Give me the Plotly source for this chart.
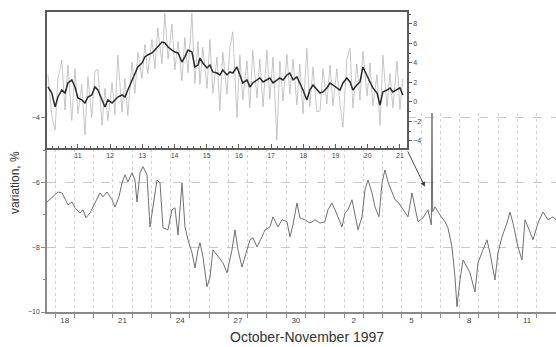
import plotly.graph_objects as go

# ---------------- data ----------------
# Main series: day counted from 1 October 1997 (32 = 1 November), variation in %
main_day = [17.585, 17.896, 18.156, 18.363, 18.519, 18.675, 18.882, 19.038, 19.297, 19.453,
            19.609, 19.816, 20.076, 20.335, 20.491, 20.698, 20.958, 21.114, 21.321, 21.477,
            21.633, 21.788, 21.996, 22.151, 22.255, 22.411, 22.567, 22.774, 22.930, 23.086,
            23.293, 23.449, 23.605, 23.864, 24.072, 24.227, 24.383, 24.591, 24.746, 24.902,
            25.110, 25.265, 25.421, 25.525, 25.680, 25.888, 26.044, 26.199, 26.459, 26.718,
            26.926, 27.185, 27.341, 27.497, 27.704, 27.964, 28.119, 28.275, 28.483, 28.742,
            28.898, 29.157, 29.313, 29.572, 29.780, 30.039, 30.195, 30.351, 30.558, 30.714,
            30.973, 31.233, 31.493, 31.752, 32.011, 32.167, 32.375, 32.531, 32.686, 32.894,
            33.049, 33.205, 33.413, 33.568, 33.724, 33.932, 34.087, 34.243, 34.451, 34.606,
            34.814, 34.970, 35.125, 35.281, 35.488, 35.644, 35.800, 36.059, 36.319, 36.526,
            36.682, 36.838, 37.097, 37.356, 37.530, 37.564, 37.600, 37.720, 37.979, 38.239,
            38.394, 38.602, 38.758, 38.862, 39.017, 39.173, 39.381, 39.536, 39.796, 39.951,
            40.211, 40.418, 40.574, 40.833, 40.989, 41.197, 41.456, 41.612, 41.768, 42.027,
            42.235, 42.390, 42.546, 42.806, 43.065, 43.324, 43.584, 43.843, 44.000]
main_var = [-6.60, -6.44, -6.29, -6.32, -6.53, -6.69, -6.60, -6.78, -6.94, -6.84,
            -7.09, -6.94, -6.63, -6.32, -6.44, -6.29, -6.53, -6.75, -6.44, -6.01,
            -5.76, -5.98, -5.70, -5.92, -6.60, -5.70, -5.51, -5.76, -7.37, -6.78,
            -5.92, -6.01, -7.40, -7.46, -6.84, -6.78, -7.62, -6.01, -7.37, -7.77,
            -8.17, -8.64, -8.08, -7.86, -8.30, -9.22, -8.92, -8.08, -8.30, -8.48,
            -8.79, -8.08, -7.46, -8.08, -8.61, -8.08, -7.77, -7.71, -7.99, -7.68,
            -7.46, -7.37, -7.06, -7.37, -7.15, -7.21, -7.68, -7.31, -6.63, -7.09,
            -7.15, -7.25, -7.15, -7.25, -7.21, -6.84, -6.63, -6.84, -7.06, -7.37,
            -6.94, -6.84, -6.53, -7.06, -7.46, -7.06, -6.23, -5.92, -6.32, -6.75,
            -7.06, -6.01, -5.61, -5.98, -6.32, -6.53, -6.60, -6.84, -7.06, -6.32,
            -6.75, -7.21, -7.09, -6.84, -7.31, -3.85, -6.90, -6.75, -7.00, -7.21,
            -7.40, -7.99, -8.92, -9.84, -9.01, -8.39, -8.61, -8.79, -9.38, -8.48,
            -8.08, -7.77, -8.17, -9.01, -8.17, -7.68, -7.25, -6.91, -7.25, -7.99,
            -8.39, -7.15, -7.37, -7.77, -7.25, -6.91, -7.15, -7.06, -7.15]

# Inset: hour, smoothed variation (dark) and raw variation (light)
inset_hour = [10.07, 10.19, 10.29, 10.38, 10.50, 10.60, 10.69, 10.81, 10.91, 11.00,
              11.12, 11.22, 11.31, 11.43, 11.53, 11.62, 11.75, 11.84, 11.93, 12.06,
              12.15, 12.24, 12.37, 12.46, 12.55, 12.68, 12.77, 12.86, 12.99, 13.08,
              13.17, 13.30, 13.39, 13.48, 13.61, 13.70, 13.80, 13.92, 14.01, 14.11,
              14.23, 14.32, 14.42, 14.54, 14.63, 14.73, 14.79, 14.88, 15.01, 15.10,
              15.19, 15.32, 15.41, 15.50, 15.63, 15.72, 15.81, 15.94, 16.03, 16.12,
              16.25, 16.34, 16.43, 16.56, 16.65, 16.75, 16.87, 16.96, 17.06, 17.18,
              17.27, 17.37, 17.49, 17.58, 17.68, 17.80, 17.89, 17.99, 18.11, 18.20,
              18.30, 18.42, 18.52, 18.61, 18.73, 18.83, 18.92, 19.04, 19.14, 19.23,
              19.35, 19.45, 19.54, 19.66, 19.76, 19.85, 19.98, 20.07, 20.16, 20.29,
              20.38, 20.47, 20.60, 20.69, 20.78, 20.91, 21.00, 21.09]
inset_mean = [1.54, 0.92, -0.51, 0.51, 1.23, 0.92, 1.95, 2.26, 1.54, 0.41,
              0.21, -0.10, 0.51, 0.72, 1.54, 1.23, 0.21, -0.51, 0.21, -0.10,
              0.21, 0.51, 0.72, 0.51, 1.23, 2.26, 2.97, 3.59, 4.00, 4.62,
              4.82, 5.03, 5.33, 5.64, 6.15, 6.05, 5.64, 5.33, 5.13, 5.03,
              4.10, 4.62, 5.33, 5.13, 3.59, 3.79, 4.51, 4.00, 3.49, 3.79,
              3.08, 2.97, 2.77, 3.28, 2.77, 3.08, 2.97, 3.59, 2.77, 1.95,
              2.26, 1.54, 1.95, 2.26, 2.46, 2.05, 2.26, 2.46, 1.95, 2.26,
              2.46, 2.26, 2.77, 2.97, 2.26, 2.56, 1.95, 1.23, 0.21, 1.23,
              1.74, 1.23, 0.92, 1.03, 1.44, 1.95, 1.74, 1.44, 1.23, 1.95,
              2.46, 2.05, 1.23, 1.74, 2.05, 3.59, 2.77, 2.05, 1.44, 0.92,
              -0.31, 1.03, 1.23, 1.44, 1.03, 1.23, 1.44, 0.72]
inset_raw = [2.8, -1.4, -2.9, 2.4, 4.3, -0.8, 3.8, -1.9, 3.4, -1.2,
             1.8, -3.4, 2.6, -1.6, 3.2, 3.3, -2.4, 1.4, -1.9, 2.0,
             -1.3, 4.8, -1.0, 2.4, -1.4, 4.1, 0.9, 5.1, 2.4, 5.9,
             2.9, 6.4, 3.4, 7.6, 3.9, 9.1, 4.4, 8.0, 3.3, 6.2,
             2.2, 6.6, 3.0, 9.1, 1.9, 6.2, 1.8, 5.6, 1.4, 6.4,
             0.9, 4.6, -0.9, 5.1, 0.8, 5.6, 7.2, -1.6, 4.8, 0.2,
             4.2, -0.6, 5.3, 0.4, 4.4, -0.5, 5.3, 0.3, 4.6, -3.9,
             4.2, 0.1, 4.9, 0.8, 4.4, -0.3, 3.9, -1.2, 5.5, -0.5,
             3.6, -1.0, -0.9, 3.4, -0.2, 3.8, -0.4, 3.4, -0.3, -2.6,
             4.4, 5.5, -0.6, 3.9, 0.2, 5.2, 0.6, 4.0, -0.4, 2.8,
             -2.4, 4.8, -0.5, 2.9, -0.6, 4.2, -0.8, 2.4]

# tick labels
main_tick_days = [18, 21, 24, 27, 30, 33, 36, 39, 42]
main_tick_text = ["18", "21", "24", "27", "30", "2", "5", "8", "11"]
main_y_ticks = [-10, -8, -6, -4]
inset_x_ticks = [11, 12, 13, 14, 15, 16, 17, 18, 19, 20, 21]
inset_y_ticks = [-4, -2, 0, 2, 4, 6, 8]

# axis ranges
main_x_range = [17.585, 44.0]
main_y_range = [-10.0, -3.85]
inset_x_range = [10.04, 21.22]
inset_y_range = [-4.72, 9.23]

FONT = "Liberation Sans, Arial, sans-serif"

fig = go.Figure()
fig.add_trace(go.Scatter(x=main_day, y=main_var, mode="lines",
                         line=dict(color="#707070", width=1),
                         xaxis="x", yaxis="y", hoverinfo="skip", showlegend=False))
fig.add_trace(go.Scatter(x=inset_hour, y=inset_raw, mode="lines",
                         line=dict(color="#b8b8b8", width=0.8),
                         xaxis="x2", yaxis="y2", hoverinfo="skip", showlegend=False))
fig.add_trace(go.Scatter(x=inset_hour, y=inset_mean, mode="lines",
                         line=dict(color="#2b2b2b", width=1.5),
                         xaxis="x2", yaxis="y2", hoverinfo="skip", showlegend=False))

fig.update_layout(
    width=556, height=347,
    margin=dict(l=47, r=0, t=12, b=35),
    paper_bgcolor="white", plot_bgcolor="white",
    font=dict(family=FONT, color="#333", size=8),
    showlegend=False,
    xaxis=dict(
        domain=[0, 1], anchor="y", range=main_x_range,
        showline=True, linecolor="#8a8a8a", linewidth=1.5,
        tickmode="array", tickvals=[d + 0.5 for d in main_tick_days], ticktext=main_tick_text,
        ticks="", showgrid=False, zeroline=False,
        tickfont=dict(size=8, color="#444"),
        minor=dict(tickmode="array", tickvals=list(range(17, 45)),
                   ticks="outside", ticklen=4, tickcolor="#8a8a8a", tickwidth=1,
                   showgrid=True, gridcolor="#d2d2d2", griddash="dot", gridwidth=1),
    ),
    yaxis=dict(
        domain=[0, 0.6633], anchor="x", range=main_y_range,
        showline=True, linecolor="#8a8a8a", linewidth=1.5,
        tickmode="array", tickvals=main_y_ticks,
        ticks="outside", ticklen=4, tickcolor="#8a8a8a",
        showgrid=True, gridcolor="#c8c8c8", griddash="dash", gridwidth=1,
        zeroline=False, tickfont=dict(size=7, color="#444"),
        minor=dict(tickmode="array", tickvals=[-9, -7, -5], ticks="outside",
                   ticklen=2, tickcolor="#8a8a8a", showgrid=False),
    ),
    xaxis2=dict(
        domain=[0, 0.7073], anchor="y2", range=inset_x_range,
        showline=True, mirror=True, linecolor="#5a5a5a", linewidth=1.5,
        tickmode="array", tickvals=inset_x_ticks,
        ticks="inside", ticklen=4, tickcolor="#5a5a5a",
        showgrid=False, zeroline=False, tickfont=dict(size=7, color="#444"),
        minor=dict(tickmode="array",
                   tickvals=[round(10 + 0.2 * k, 1) for k in range(0, 58)],
                   ticks="inside", ticklen=2.5, tickcolor="#5a5a5a", showgrid=False),
    ),
    yaxis2=dict(
        domain=[0.5467, 1], anchor="x2", side="right", range=inset_y_range,
        showline=True, mirror=True, linecolor="#5a5a5a", linewidth=1.5,
        tickmode="array", tickvals=inset_y_ticks,
        ticks="outside", ticklen=3, tickcolor="#5a5a5a",
        showgrid=False, zeroline=False, tickfont=dict(size=7, color="#444"),
        minor=dict(tickmode="array", tickvals=[-3, -1, 1, 3, 5, 7, 9],
                   ticks="outside", ticklen=2, tickcolor="#5a5a5a", showgrid=False),
    ),
    shapes=[dict(type="rect", xref="x2", yref="y2",
                 x0=inset_x_range[0], x1=inset_x_range[1],
                 y0=inset_y_range[0], y1=inset_y_range[1],
                 fillcolor="white", line=dict(width=0), layer="below")],
    annotations=[
        dict(text="variation, %", xref="paper", yref="paper", x=-0.063, y=0.433,
             textangle=-90, showarrow=False, font=dict(size=12, color="#333", family=FONT),
             xanchor="center", yanchor="middle"),
        dict(text="October-November 1997", xref="paper", yref="paper", x=0.511, y=-0.083,
             showarrow=False, font=dict(size=14, color="#333", family=FONT),
             xanchor="center", yanchor="middle"),
        dict(text="", xref="x", yref="y", x=37.20, y=-6.13,
             axref="x", ayref="y", ax=36.27, ay=-4.99,
             showarrow=True, arrowhead=2, arrowsize=1, arrowwidth=1, arrowcolor="#444"),
    ],
)

# remove the browser's default 8px page margin so the figure sits at the window origin
fig.write_html("out.html", config={"displayModeBar": False},
               post_script="document.body.style.margin='0';")
